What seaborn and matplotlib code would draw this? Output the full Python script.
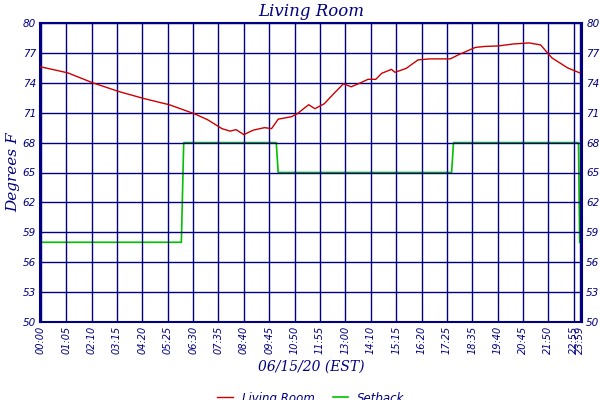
import matplotlib
matplotlib.use("Agg")
import matplotlib.pyplot as plt
import seaborn as sns
import pandas as pd

minutes = [0, 69, 133, 202, 266, 329, 393, 427, 464, 485, 500, 520, 544, 573, 591, 608, 642,
           657, 686, 702, 726, 750, 775, 795, 819, 838, 858, 873, 898, 907, 936, 966, 996,
           1049, 1069, 1113, 1138, 1172, 1211, 1251, 1280, 1309, 1349, 1380]
temps = [75.6, 75.0, 74.0, 73.1, 72.4, 71.8, 70.9, 70.3, 69.4, 69.15, 69.3, 68.8, 69.25, 69.5,
         69.4, 70.35, 70.6, 70.9, 71.8, 71.4, 71.9, 72.9, 73.9, 73.6, 74.0, 74.35, 74.35, 74.95,
         75.35, 75.05, 75.45, 76.3, 76.4, 76.4, 76.8, 77.55, 77.65, 77.7, 77.9, 78.0, 77.8,
         76.5, 75.5, 75.0]
set_min = [0, 360, 366, 603, 608, 1052, 1057, 1377, 1380]
set_val = [58, 58, 68, 68, 65, 65, 68, 68, 58]
tick_min = [0, 65, 130, 195, 260, 325, 390, 455, 520, 585, 650, 715, 780, 845, 910, 975,
            1040, 1105, 1170, 1235, 1300, 1365, 1380]
tick_lab = ["00:00", "01:05", "02:10", "03:15", "04:20", "05:25", "06:30", "07:35", "08:40",
            "09:45", "10:50", "11:55", "13:00", "14:10", "15:15", "16:20", "17:25", "18:35",
            "19:40", "20:45", "21:50", "22:55", "23:59"]
y_ticks = [50, 53, 56, 59, 62, 65, 68, 71, 74, 77, 80]

navy = "#000080"
fig = plt.figure(figsize=(6, 4), dpi=100)
ax = fig.add_axes([40/600, 78/400, 542/600, 299/400])
sns.lineplot(x=set_min, y=set_val, ax=ax, color="#00c000", lw=1.2, zorder=1,
             label="Setback", estimator=None, sort=False)
sns.lineplot(x=minutes, y=temps, ax=ax, color="#cc0000", lw=1, zorder=3,
             label="Living Room", estimator=None, sort=False)
ax.set_xlim(-2, 1386)
ax.set_ylim(50, 80)
ax.set_xticks(tick_min)
ax.set_xticklabels(tick_lab, rotation=90, fontsize=7, style="italic", color=navy)
ax.set_yticks(y_ticks)
ax.set_yticklabels(y_ticks, fontsize=7.5, style="italic", color=navy)
ax.grid(True, color=navy, lw=1.0, zorder=2)
ax.set_axisbelow(False)
ax.tick_params(length=0, pad=3)
for s in ax.spines.values():
    s.set_color(navy); s.set_linewidth(1.5)
ax2 = ax.twinx()
ax2.set_ylim(50, 80)
ax2.set_yticks(y_ticks)
ax2.set_yticklabels(y_ticks, fontsize=7.5, style="italic", color=navy)
ax2.tick_params(length=0, pad=3)
for s in ax2.spines.values():
    s.set_visible(False)
ax.set_title("Living Room", fontsize=12, style="italic", color=navy, family="DejaVu Serif", pad=5)
ax.set_ylabel("Degrees F", fontsize=11, style="italic", color=navy, family="DejaVu Serif", labelpad=2)
ax.set_xlabel("06/15/20 (EST)", fontsize=10, style="italic", color=navy, family="DejaVu Serif", labelpad=4)
h, l = ax.get_legend_handles_labels()
ax.legend(h[::-1], l[::-1], loc="upper center", bbox_to_anchor=(0.5, -0.205), ncol=2,
          frameon=False, prop={"style": "italic", "size": 8.5},
          handlelength=1.3, columnspacing=1.5, labelcolor=navy, borderpad=0.2)
fig.savefig("out.png", dpi=100)
